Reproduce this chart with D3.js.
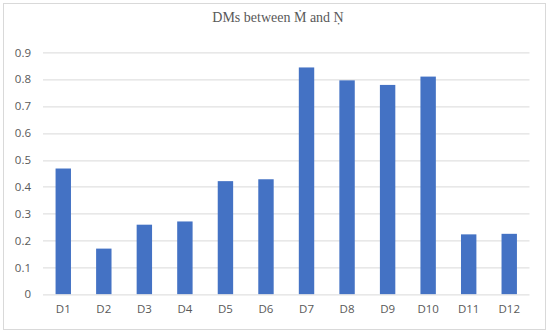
<!DOCTYPE html>
<html>
<head>
<meta charset="utf-8">
<script src="https://cdn.jsdelivr.net/npm/d3@7"></script>
<style>
  body { margin: 0; background: #fff; }
  svg text { fill: #595959; }
</style>
</head>
<body>
<div id="chart"></div>
<script>
  "use strict";

  /* <!-- Chart Data --> */
  var categories = ["D1", "D2", "D3", "D4", "D5", "D6", "D7", "D8", "D9", "D10", "D11", "D12"];
  var values = [0.468, 0.170, 0.259, 0.271, 0.421, 0.428, 0.844, 0.796, 0.779, 0.810, 0.223, 0.225];
  var ticks = [0, 0.1, 0.2, 0.3, 0.4, 0.5, 0.6, 0.7, 0.8, 0.9];
  var title = "DMs between \u1E40 and \u1E46";

  /* <!-- Layout --> */
  var width = 550, height = 334,
    margin = { top: 52.4, right: 20.5, bottom: 39.7, left: 43 },
    innerW = width - margin.left - margin.right,
    innerH = height - margin.top - margin.bottom;

  var svg = d3.select("#chart").append("svg")
    .attr("width", width).attr("height", height);

  /* <!-- Outer frame --> */
  svg.append("rect")
    .attr("x", 3.5).attr("y", 3.5).attr("width", 542).attr("height", 326)
    .attr("fill", "#fff").attr("stroke", "#d9d9d9").attr("stroke-width", 1);

  svg.append("text")
    .attr("x", 278).attr("y", 22)
    .attr("text-anchor", "middle")
    .style("font-family", "'Liberation Serif', serif")
    .style("font-size", "14px")
    .text(title);

  var g = svg.append("g").attr("transform", `translate(${margin.left},${margin.top})`);

  var x = d3.scaleBand().domain(categories).range([0, innerW]).paddingInner(0.62).paddingOuter(0.31);
  var y = d3.scaleLinear().domain([0, 0.9]).range([innerH, 0]);

  /* <!-- Gridlines --> */
  g.selectAll(".grid")
    .data(ticks.slice(1))
    .enter().append("line")
    .attr("x1", 0).attr("x2", innerW)
    .attr("y1", d => Math.round(y(d)) + 0.5).attr("y2", d => Math.round(y(d)) + 0.5)
    .attr("stroke", "#d9d9d9").attr("stroke-width", 1);

  /* <!-- Bars --> */
  g.selectAll(".bar")
    .data(values)
    .enter().append("rect")
    .attr("x", (d, i) => x(categories[i]))
    .attr("width", x.bandwidth())
    .attr("y", d => y(d))
    .attr("height", d => innerH - y(d))
    .attr("fill", "#4472c4");

  /* <!-- Baseline --> */
  g.append("line")
    .attr("x1", 0).attr("x2", innerW)
    .attr("y1", Math.round(innerH) + 0.5).attr("y2", Math.round(innerH) + 0.5)
    .attr("stroke", "#d9d9d9");

  /* <!-- Axes --> */
  var yAxis = g.append("g")
    .call(d3.axisLeft(y).tickValues(ticks).tickSize(0).tickPadding(12).tickFormat(d => d3.format("")(d)));
  yAxis.select(".domain").remove();
  yAxis.selectAll("text")
    .style("font-family", "'Open Sans', sans-serif").style("font-size", "11.5px").attr("fill", "#595959");

  var xAxis = g.append("g")
    .attr("transform", `translate(0,${innerH})`)
    .call(d3.axisBottom(x).tickSize(0).tickPadding(11));
  xAxis.select(".domain").remove();
  xAxis.selectAll("text")
    .style("font-family", "'Open Sans', sans-serif").style("font-size", "11.5px").attr("fill", "#595959");
</script>
</body>
</html>
